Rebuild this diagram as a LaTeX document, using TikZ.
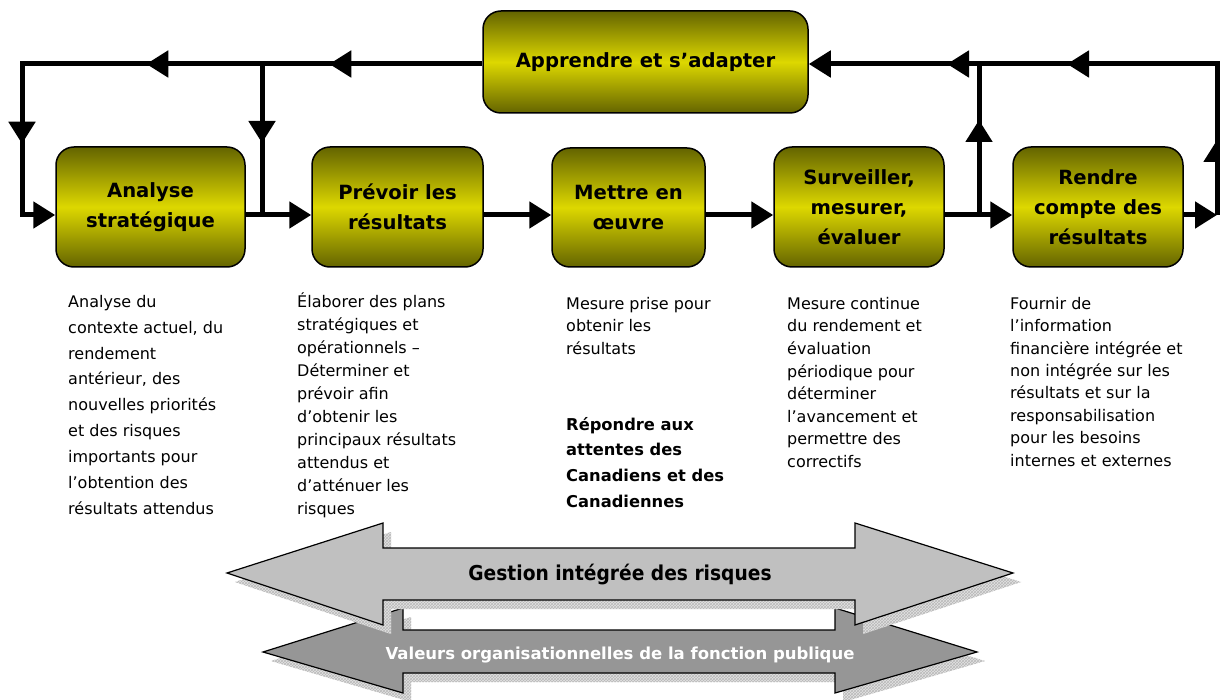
\documentclass[tikz,border=0pt]{standalone}
\usepackage{fontspec}
\usepackage{graphicx}
\setmainfont{DejaVu Sans}
\usetikzlibrary{arrows.meta,decorations.markings,patterns}
\definecolor{olivedark}{RGB}{100,100,0}
\definecolor{yellowmid}{RGB}{221,216,0}
\definecolor{arrowlight}{RGB}{192,192,192}
\definecolor{arrowdark}{RGB}{150,150,150}
\tikzset{
  bigtip/.tip={Triangle[length=22pt,width=26pt]},
  stepbox/.style={draw=black, line width=1.5pt, rounded corners=18pt,
    top color=olivedark, bottom color=olivedark, middle color=yellowmid,
    align=center, inner sep=0pt,
    font=\bfseries\fontsize{19.6}{30}\selectfont},
  conn/.style={line width=5pt, draw=black},
  desc/.style={align=left, inner sep=0pt, anchor=north west},
  bandshadow/.style={preaction={fill=gray!22}, pattern=crosshatch, pattern color=gray!55},
  band/.style={draw=black, line width=1.2pt},
}
\newcommand{\firstln}{\rule{0pt}{15pt}}
\begin{document}
\begin{tikzpicture}[x=1pt,y=-1pt]
\useasboundingbox (0,0) rectangle (1220,700);

% boxes
\node[stepbox, minimum width=325, minimum height=102] (learn) at (645.5,62) {\raisebox{-3pt}{Apprendre et s’adapter}};
\node[stepbox, minimum width=189, minimum height=120] (ana) at (150.5,207) {Analyse\\stratégique};
\node[stepbox, minimum width=171, minimum height=120] (prev) at (397.5,207) {Prévoir les\\résultats};
\node[stepbox, minimum width=153, minimum height=119] (mettre) at (628.5,207.5) {Mettre en\\œuvre};
\node[stepbox, minimum width=170, minimum height=120] (surv) at (859,207) {Surveiller,\\mesurer,\\évaluer};
\node[stepbox, minimum width=170, minimum height=120] (rendre) at (1098,207) {Rendre\\compte des\\résultats};

% corner / junction coordinates
\coordinate (tl) at (22,64);
\coordinate (bl) at (22,215);
\coordinate (j1) at (262,64);
\coordinate (j1b) at (262,215);
\coordinate (j2) at (979,64);
\coordinate (j2b) at (979,215);
\coordinate (tr) at (1217,64);
\coordinate (br) at (1217,215);

% connectors
\draw[conn, -{bigtip}, postaction={decorate}, decoration={markings,
    mark=at position 153pt with {\arrow{bigtip}},
    mark=at position 336pt with {\arrow{bigtip}},
    mark=at position 540pt with {\arrow{bigtip}}}]
  (learn.west |- tl) -- (tl) -- (bl) -- (ana.west |- bl);
\draw[conn, postaction={decorate}, decoration={markings,
    mark=at position 79pt with {\arrow{bigtip}}}]
  (j1) -- (j1b);
\draw[conn, -{bigtip}] (ana.east |- bl) -- (prev.west |- bl);
\draw[conn, -{bigtip}] (prev.east |- bl) -- (mettre.west |- bl);
\draw[conn, -{bigtip}] (mettre.east |- bl) -- (surv.west |- bl);
\draw[conn, -{bigtip}] (surv.east |- bl) -- (rendre.west |- bl);
\draw[conn, -{bigtip}] (rendre.east |- bl) -- (br);
\draw[conn, postaction={decorate}, decoration={markings,
    mark=at position 95pt with {\arrow{bigtip}}}]
  (j2b) -- (j2);
\draw[conn, -{bigtip}, postaction={decorate}, decoration={markings,
    mark=at position 75pt with {\arrow{bigtip}},
    mark=at position 301pt with {\arrow{bigtip}},
    mark=at position 421pt with {\arrow{bigtip}}}]
  (br) -- (tr) -- (learn.east |- tr);

% descriptions (first baseline = y + 15)
\node[desc, font=\fontsize{16}{25.9}\selectfont] (d1) at (68,292)
  {\firstln Analyse du\\contexte actuel, du\\rendement\\antérieur, des\\nouvelles priorités\\et des risques\\importants pour\\l’obtention des\\résultats attendus};
\node[desc, font=\fontsize{16}{23}\selectfont] (d2) at (297,292)
  {\firstln Élaborer des plans\\stratégiques et\\opérationnels –\\Déterminer et\\prévoir afin\\d’obtenir les\\principaux résultats\\attendus et\\d’atténuer les\\risques};
\node[desc, font=\fontsize{16}{22.5}\selectfont] (d3) at (566,294)
  {\firstln Mesure prise pour\\obtenir les\\résultats};
\node[desc, font=\bfseries\fontsize{16.3}{25.7}\selectfont] (d3b) at (566,415)
  {\firstln Répondre aux\\attentes des\\Canadiens et des\\Canadiennes};
\node[desc, font=\fontsize{16}{22.6}\selectfont] (d4) at (787,294)
  {\firstln Mesure continue\\du rendement et\\évaluation\\périodique pour\\déterminer\\l’avancement et\\permettre des\\correctifs};
\node[desc, font=\fontsize{16}{22.4}\selectfont] (d5) at (1010,294)
  {\firstln Fournir de\\l’information\\financière intégrée et\\non intégrée sur les\\résultats et sur la\\responsabilisation\\pour les besoins\\internes et externes};

% double arrows (bands) with shadows
\begin{scope}[shift={(8,9)}]
  \fill[bandshadow] (263,652) -- (403,608) -- (403,630) -- (835,630) -- (835,608) -- (977,652)
    -- (835,693) -- (835,673) -- (403,673) -- (403,693) -- cycle;
\end{scope}
\draw[band, fill=arrowdark] (263,652) -- (403,608) -- (403,630) -- (835,630) -- (835,608) -- (977,652)
    -- (835,693) -- (835,673) -- (403,673) -- (403,693) -- cycle;
\begin{scope}[shift={(8,9)}]
  \fill[bandshadow] (227,573) -- (383,523) -- (383,548) -- (855,548) -- (855,523) -- (1013,573)
    -- (855,625) -- (855,600) -- (383,600) -- (383,625) -- cycle;
\end{scope}
\draw[band, fill=arrowlight] (227,573) -- (383,523) -- (383,548) -- (855,548) -- (855,523) -- (1013,573)
    -- (855,625) -- (855,600) -- (383,600) -- (383,625) -- cycle;
\node[font=\bfseries\fontsize{20.5}{24}\selectfont] (risk) at (620,575) {\scalebox{0.91}[1]{Gestion intégrée des risques}};
\node[font=\bfseries\fontsize{16.5}{20}\selectfont, text=white] (values) at (620,655) {Valeurs organisationnelles de la fonction publique};
\end{tikzpicture}
\end{document}
